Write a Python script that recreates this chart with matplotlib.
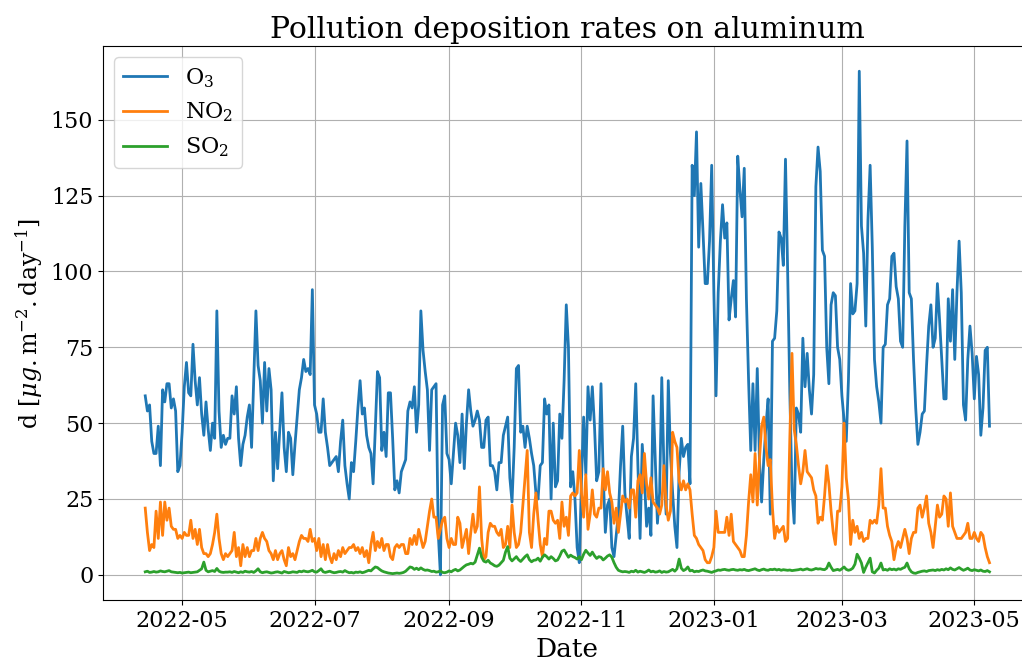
import matplotlib
matplotlib.use("Agg")
import matplotlib.pyplot as plt
import pandas as pd

# daily deposition rates, 2022-04-14 .. 2023-05-08
start, end = "2022-04-14", "2023-05-08"

o3 = [
    59, 54, 56, 44, 40, 40, 49, 36, 61, 57,
    63, 63, 55, 58, 54, 34, 36, 47, 62, 70,
    60, 59, 76, 64, 56, 65, 53, 46, 57, 48,
    41, 50, 45, 87, 54, 42, 46, 43, 45, 45,
    59, 53, 62, 45, 36, 43, 46, 52, 56, 42,
    65, 87, 69, 64, 50, 70, 54, 68, 61, 31,
    47, 35, 48, 60, 42, 34, 47, 45, 33, 43,
    52, 61, 65, 71, 67, 68, 66, 94, 56, 53,
    47, 47, 58, 47, 42, 36, 37, 38, 39, 34,
    44, 51, 36, 30, 25, 37, 34, 44, 55, 64,
    53, 55, 46, 42, 40, 30, 48, 67, 65, 41,
    47, 39, 60, 60, 45, 28, 31, 27, 34, 36,
    38, 54, 57, 55, 62, 47, 56, 87, 74, 67,
    61, 41, 61, 62, 63, 14, 0, 56, 59, 40,
    38, 30, 40, 50, 46, 37, 53, 35, 50, 61,
    54, 49, 51, 54, 51, 42, 42, 51, 52, 36,
    36, 34, 28, 37, 37, 46, 49, 52, 32, 24,
    42, 68, 69, 47, 49, 42, 49, 45, 40, 36,
    27, 25, 36, 37, 58, 53, 56, 25, 50, 29,
    31, 53, 45, 64, 89, 75, 29, 34, 25, 9,
    4, 31, 52, 33, 62, 51, 62, 49, 31, 34,
    63, 33, 14, 23, 25, 9, 6, 13, 20, 36,
    49, 27, 19, 12, 39, 45, 63, 36, 12, 43,
    32, 16, 22, 13, 59, 38, 17, 27, 65, 35,
    20, 64, 40, 27, 16, 9, 34, 45, 39, 42,
    43, 30, 135, 125, 146, 108, 129, 113, 96, 96,
    110, 135, 93, 59, 93, 110, 122, 111, 116, 84,
    91, 97, 85, 138, 127, 118, 134, 91, 64, 41,
    63, 41, 68, 38, 24, 38, 49, 58, 20, 77,
    78, 87, 113, 111, 102, 137, 100, 60, 28, 17,
    55, 53, 47, 78, 62, 73, 61, 53, 66, 128,
    141, 133, 107, 105, 75, 63, 89, 93, 92, 75,
    71, 59, 51, 44, 64, 96, 86, 87, 96, 166,
    115, 106, 82, 117, 135, 108, 71, 62, 57, 50,
    75, 76, 89, 91, 105, 106, 95, 91, 77, 75,
    115, 143, 93, 91, 71, 55, 43, 47, 53, 54,
    69, 82, 89, 75, 78, 96, 84, 71, 58, 58,
    91, 77, 94, 71, 93, 110, 93, 56, 51, 71,
    82, 73, 58, 72, 66, 46, 55, 74, 75, 49,
]

no2 = [
    22, 14, 8, 10, 9, 21, 12, 24, 13, 24,
    18, 22, 16, 15, 15, 12, 13, 12, 14, 13,
    13, 18, 12, 15, 10, 15, 9, 7, 7, 6,
    7, 10, 14, 20, 12, 7, 5, 7, 6, 7,
    8, 14, 6, 9, 3, 10, 6, 9, 6, 8,
    8, 12, 8, 12, 14, 12, 11, 8, 7, 5,
    8, 5, 7, 8, 5, 3, 9, 6, 7, 5,
    8, 11, 13, 12, 12, 11, 15, 11, 12, 8,
    12, 6, 10, 5, 10, 6, 4, 7, 5, 8,
    6, 9, 7, 8, 9, 9, 10, 8, 9, 7,
    9, 6, 8, 4, 10, 14, 8, 11, 9, 12,
    8, 10, 10, 6, 5, 9, 10, 9, 10, 10,
    7, 7, 12, 10, 13, 10, 15, 12, 9, 11,
    16, 21, 25, 19, 19, 12, 15, 18, 19, 12,
    9, 12, 10, 10, 19, 17, 9, 12, 15, 7,
    14, 20, 14, 16, 29, 12, 5, 6, 14, 17,
    16, 16, 14, 13, 15, 9, 10, 16, 9, 23,
    14, 9, 10, 14, 23, 32, 41, 14, 9, 20,
    27, 18, 10, 6, 12, 10, 21, 21, 18, 17,
    18, 12, 24, 16, 19, 13, 26, 27, 26, 27,
    41, 27, 19, 33, 15, 20, 28, 20, 19, 22,
    22, 35, 28, 34, 27, 24, 17, 22, 14, 20,
    26, 24, 25, 22, 28, 28, 19, 31, 33, 27,
    40, 30, 25, 32, 24, 23, 22, 20, 23, 36,
    23, 18, 21, 47, 44, 42, 31, 28, 31, 28,
    30, 28, 20, 13, 12, 10, 9, 8, 5, 4,
    4, 6, 9, 21, 14, 14, 14, 14, 19, 13,
    20, 11, 10, 9, 8, 6, 6, 13, 24, 33,
    24, 40, 23, 38, 49, 52, 42, 36, 38, 22,
    12, 16, 14, 15, 16, 11, 12, 45, 73, 48,
    43, 36, 30, 34, 41, 34, 33, 32, 28, 26,
    17, 19, 18, 26, 36, 30, 21, 14, 10, 21,
    21, 29, 50, 32, 25, 10, 18, 14, 16, 12,
    14, 11, 12, 12, 18, 17, 18, 17, 23, 35,
    22, 22, 16, 13, 11, 5, 9, 11, 9, 12,
    15, 12, 7, 12, 14, 14, 22, 23, 19, 22,
    26, 17, 14, 9, 16, 23, 19, 20, 26, 25,
    16, 27, 16, 14, 12, 12, 12, 13, 14, 17,
    12, 12, 14, 12, 11, 14, 13, 9, 6, 4,
]

so2 = [
    1.0, 1.2, 0.8, 0.9, 1.1, 0.9, 1.0, 1.3, 1.1, 1.0,
    1.2, 1.4, 1.0, 0.9, 0.8, 0.7, 0.8, 0.6, 0.7, 0.8,
    0.9, 0.7, 0.8, 0.9, 1.0, 1.5, 2.0, 4.2, 1.5, 1.0,
    1.2, 1.4, 1.1, 2.1, 1.2, 0.9, 0.8, 0.9, 0.9, 1.0,
    0.8, 1.1, 0.9, 0.7, 1.0, 0.8, 1.2, 1.0, 0.9, 1.1,
    0.8, 1.3, 2.0, 1.0, 0.7, 0.9, 1.0, 0.8, 0.6, 0.7,
    0.9, 1.0, 0.8, 0.6, 1.1, 0.9, 0.7, 0.8, 1.0, 0.9,
    0.8, 1.2, 1.0, 1.3, 1.1, 1.0, 1.2, 1.5, 1.0, 0.9,
    1.4, 2.0, 1.0, 0.8, 1.0, 1.2, 0.9, 0.7, 0.8, 1.0,
    1.1, 0.9, 1.4, 1.0, 0.7, 0.8, 0.6, 0.9, 0.8, 1.0,
    0.7, 0.9, 1.2, 1.5, 1.3, 2.0, 2.6, 2.4, 1.8, 1.3,
    1.0, 0.8, 0.6, 0.5, 0.4, 0.5, 0.6, 0.5, 0.6, 0.8,
    1.2, 1.9, 2.6, 2.4, 1.8, 2.2, 1.7, 2.3, 1.8, 1.5,
    1.6, 1.4, 1.1, 1.2, 0.9, 1.0, 1.3, 0.8, 0.7, 0.9,
    1.3, 1.0, 1.5, 1.8, 1.3, 1.6, 2.2, 2.8, 3.3, 3.5,
    3.8, 3.6, 4.2, 6.5, 8.8, 5.8, 4.5, 4.2, 4.8, 3.9,
    3.5, 3.0, 2.8, 3.2, 4.0, 4.8, 7.5, 9.3, 5.5, 4.6,
    5.3, 6.0, 5.0, 4.4, 5.2, 6.0, 6.6, 5.0, 4.3, 4.8,
    4.9, 5.5, 4.5, 5.8, 6.6, 6.0, 5.2, 6.0, 5.4, 4.6,
    4.9, 6.2, 7.8, 8.2, 7.0, 5.8, 6.5, 6.0, 5.7, 5.2,
    6.0, 5.0, 6.8, 8.1, 7.2, 6.4, 7.5, 6.3, 5.4, 6.0,
    5.8, 4.9, 5.5, 6.2, 6.6, 5.8, 4.0, 2.5, 1.5, 1.2,
    1.0, 1.1, 1.0, 0.8, 1.2, 1.0, 1.5, 0.9, 1.2, 1.0,
    0.8, 1.1, 1.6, 1.0, 1.2, 0.9, 1.0, 1.3, 0.8, 1.1,
    0.9, 1.0, 1.4, 1.8, 1.2, 2.0, 5.2, 2.2, 1.4, 1.8,
    2.6, 1.3, 1.5, 1.0, 1.2, 1.1, 1.4, 1.6, 1.3, 1.2,
    1.0, 0.8, 1.1, 1.3, 1.6, 1.5, 1.7, 1.8, 1.6, 1.5,
    1.7, 1.8, 1.6, 1.5, 1.7, 1.6, 1.8, 1.5, 1.4, 1.6,
    1.8, 2.0, 1.6, 1.4, 1.7, 1.9, 1.6, 1.5, 1.8, 1.7,
    1.9, 1.6, 1.8, 1.5, 1.7, 1.6, 1.5, 1.6, 1.4, 1.5,
    1.6, 1.7, 1.9, 1.6, 1.8, 2.0, 1.7, 1.6, 1.8, 2.1,
    1.9, 2.0, 1.8, 1.7, 2.2, 3.9, 2.5, 1.4, 1.6, 1.8,
    1.5, 2.0, 2.6, 1.8, 1.5, 1.7, 2.2, 3.5, 6.8, 5.5,
    3.9, 0.8, 2.5, 4.0, 5.5, 1.0, 0.6, 1.5, 2.2, 3.9,
    1.6, 1.8, 1.5, 2.0, 1.7, 1.9, 1.6, 2.0, 1.8, 2.2,
    2.5, 3.9, 2.0, 1.0, 0.6, 0.5, 0.8, 1.0, 1.2, 1.3,
    1.1, 1.4, 1.5, 1.6, 1.4, 1.7, 1.5, 1.8, 1.6, 2.0,
    1.7, 2.3, 1.8, 1.6, 2.0, 2.4, 1.9, 1.5, 1.8, 2.2,
    1.6, 1.4, 1.7, 1.5, 1.3, 1.6, 1.2, 1.1, 1.4, 1.0,
]

labels = [r"$\mathrm{O_3}$", r"$\mathrm{NO_2}$", r"$\mathrm{SO_2}$"]

dates = pd.date_range(start, end, freq="D")

plt.rcParams.update({"font.family": "serif", "font.serif": ["DejaVu Serif"],
                     "mathtext.fontset": "dejavuserif", "font.size": 16})

fig = plt.figure(figsize=(10.22, 6.65), dpi=100)
ax = fig.add_axes([0.1008, 0.0977, 0.9087, 0.8331])
for series, lab in zip([o3, no2, so2], labels):
    ax.plot(dates, series, lw=2, label=lab)

ax.set_title("Pollution deposition rates on aluminum", fontsize=21.5)
ax.set_xlabel("Date", fontsize=19)
ax.set_ylabel(r"d [$\mu g.\mathrm{m}^{-2}.\mathrm{day}^{-1}$]", fontsize=17)
ax.grid(True)
ax.legend(loc="upper left")

fig.savefig("out.png", dpi=100)
